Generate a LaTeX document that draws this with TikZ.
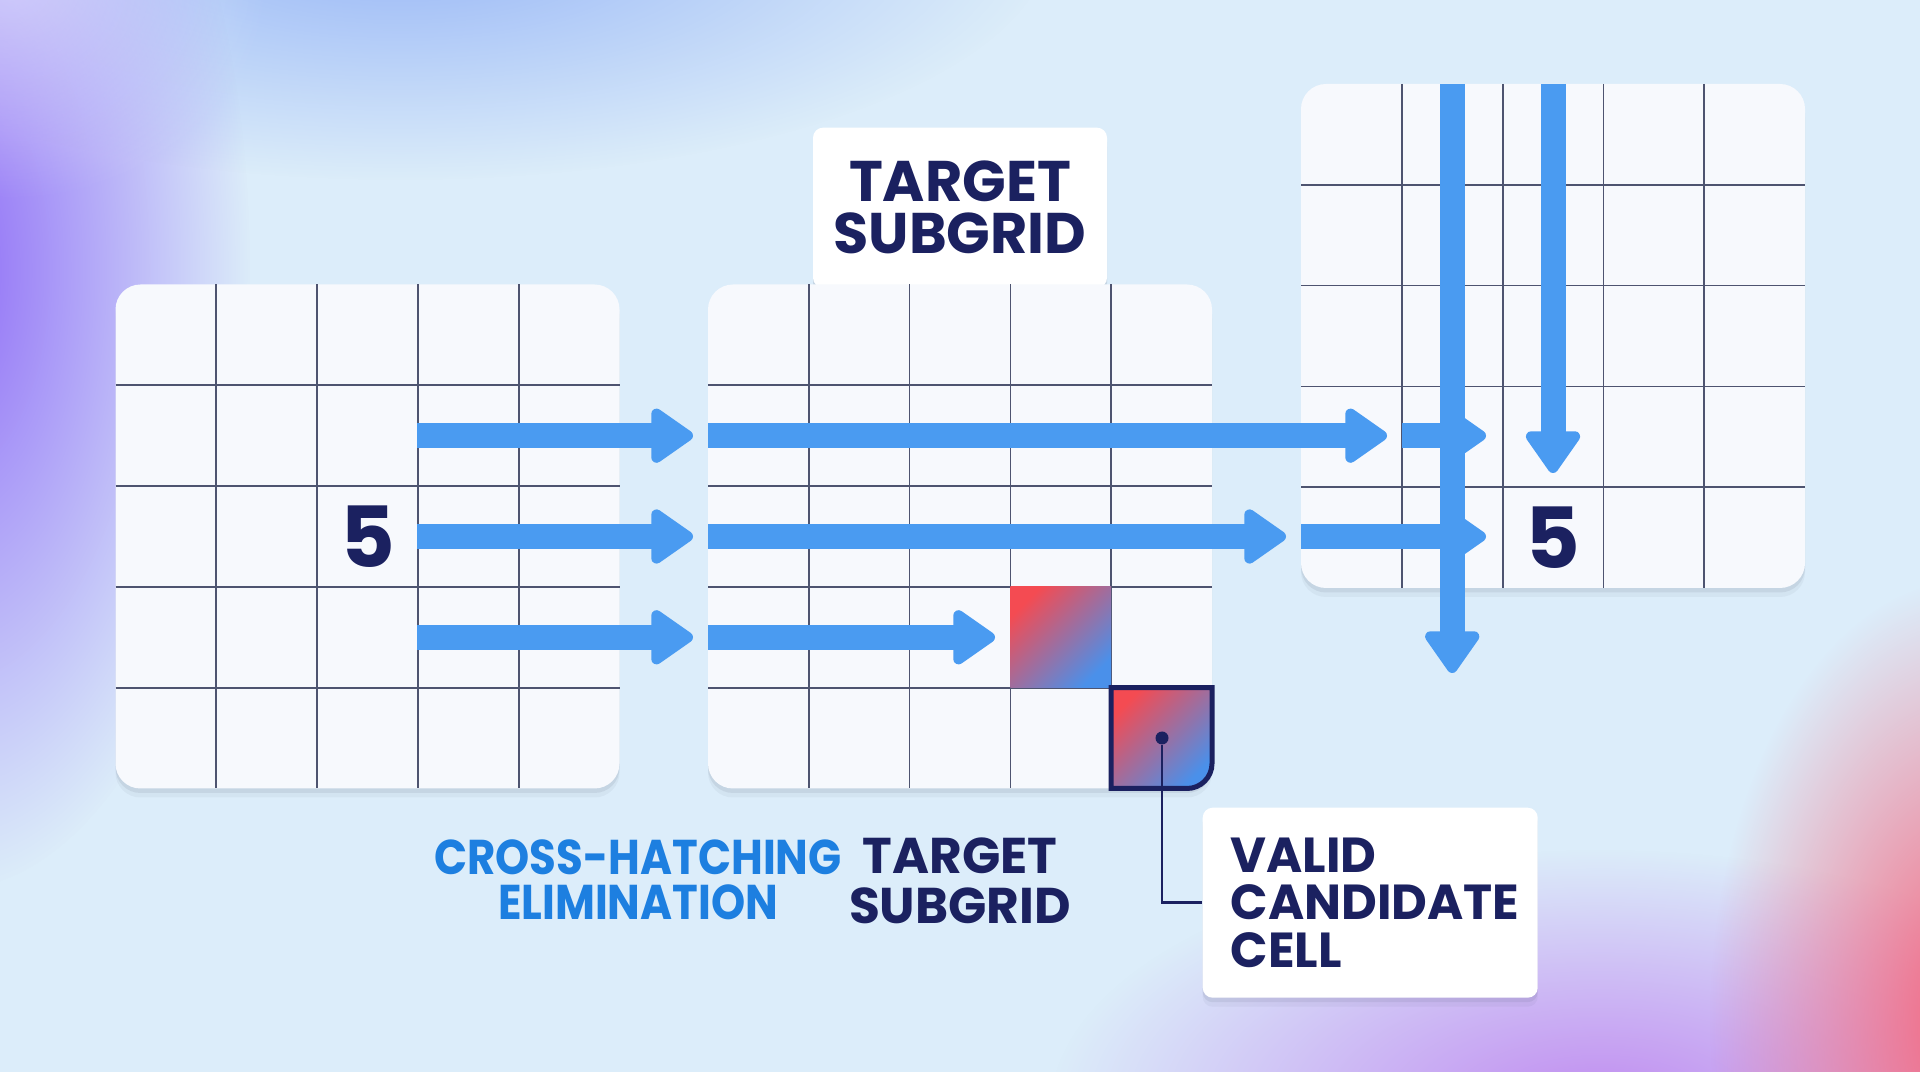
\documentclass[tikz,border=0pt]{standalone}
\usepackage{fontspec}
\setmainfont{Poppins}
\newfontfamily\narrowfont{Poppins}[FakeStretch=0.89]
\usepackage{tikz}
\usetikzlibrary{arrows.meta,positioning,calc,fadings,shadows}
\definecolor{ink}{HTML}{1B2160}
\definecolor{hatchblue}{HTML}{1D7FE0}
\definecolor{raycol}{HTML}{4A9BF1}
\definecolor{gridcol}{HTML}{4E5470}
\definecolor{boardcol}{HTML}{F7F9FD}
\definecolor{skycol}{HTML}{DCEDFA}
\definecolor{hotcol}{HTML}{F44B52}
\definecolor{coolcol}{HTML}{4A90EA}
\definecolor{glowv}{HTML}{8F6CF7}
\definecolor{glowb}{HTML}{86A8F6}
\definecolor{glowp}{HTML}{C08AF0}
\definecolor{glowr}{HTML}{F5647C}
\tikzfading[name=glow,inner color=transparent!0,outer color=transparent!100]

\begin{document}
\begin{tikzpicture}[x=1cm,y=-1cm,
  softshadow/.style={drop shadow={shadow xshift=0pt,shadow yshift=-0.09cm,opacity=0.06,fill=gridcol},
    drop shadow={shadow xshift=0pt,shadow yshift=-0.045cm,opacity=0.10,fill=gridcol}},
  board/.style={fill=boardcol,rounded corners=0.25cm,minimum size=5.04cm,inner sep=0pt,outer sep=0pt,anchor=north west,softshadow},
  gridline/.style={gridcol,line width=0.5pt},
  sweep/.style={raycol,line width=0.25cm,-{Triangle[length=0.46cm,width=0.61cm,round,line width=3pt]}},
  tag/.style={fill=white,rounded corners=0.1cm,inner sep=0pt,text=ink,softshadow},
  digit/.style={text=ink,font=\fontsize{24}{24}\selectfont\bfseries},
  heat/.style={top color=hotcol,bottom color=coolcol,shading angle=45}]
  \fill[skycol] (0,0) rectangle (19.2,10.72);
  \useasboundingbox (0,0) rectangle (19.2,10.72);
  \begin{scope}
    \clip (0,0) rectangle (19.2,10.72);
    \fill[glowb,opacity=0.8,path fading=glow] (4.0,-0.6) ellipse (6.5 and 2.4);
    \fill[glowv,path fading=glow] (-0.5,2.7) ellipse (3.0 and 6.2);
    \fill[white,opacity=0.45,path fading=glow] (0.1,-0.2) ellipse (2.6 and 2.2);
    \fill[glowp,path fading=glow] (16.0,11.1) ellipse (5.5 and 2.6);
    \fill[glowr,path fading=glow] (19.7,10.2) ellipse (2.6 and 4.4);
  \end{scope}

  \node[tag,minimum width=2.94cm,minimum height=1.6cm,anchor=north,align=center,
    font=\fontsize{16.3}{14.8}\selectfont\bfseries] (tagtop) at (9.60,1.27) {TARGET\\SUBGRID};

  \foreach \n/\gx/\gy in {g1/1.155/2.845,g2/7.08/2.845,g3/13.01/0.84}{
    \node[board] (\n) at (\gx,\gy) {};
    \foreach \i in {1,...,4}{
      \draw[gridline] ($(\n.north west)+(\i*1.008,0)$) -- ($(\n.south west)+(\i*1.008,0)$);
      \draw[gridline] ($(\n.north west)+(0,\i*1.008)$) -- ($(\n.north east)+(0,\i*1.008)$);
    }
  }

  \shade[heat] (10.104,5.869) rectangle (11.112,6.877);

  \foreach \y/\xa/\xb in {4.357/4.17/6.93,5.365/4.17/6.93,6.373/4.17/6.93,
      4.357/7.08/13.87,5.365/7.08/12.86,6.373/7.08/9.95,
      4.357/14.02/14.86,5.365/13.01/14.86}
    \draw[sweep] (\xa,\y) -- (\xb,\y);
  \foreach \x/\yb in {14.522/6.73,15.53/4.73}
    \draw[sweep] (\x,0.84) -- (\x,\yb);

  \node[digit] (fivea) at (3.675,5.365) {5};
  \node[digit] (fiveb) at (15.53,5.376) {5};

  \shadedraw[heat,draw=ink,line width=0.05cm] (11.112,6.877) -- (12.12,6.877) -- (12.12,7.635)
    .. controls (12.12,7.773) and (12.008,7.885) .. (11.87,7.885) -- (11.112,7.885) -- cycle;

  \node[font=\narrowfont\fontsize{13.9}{12.8}\selectfont\bfseries,text=hatchblue,align=center] (xhatch) at (6.38,8.80) {CROSS-HATCHING\\ELIMINATION};
  \node[font=\fontsize{14.3}{14.2}\selectfont\bfseries,text=ink,align=center] (tagbot) at (9.60,8.81) {TARGET\\SUBGRID};

  \node[tag,anchor=north west,minimum width=3.35cm,minimum height=1.9cm,text width=2.79cm,inner xsep=0.28cm,align=left,
    font=\fontsize{14}{13.6}\selectfont\bfseries] (vcc) at (12.02,8.07) {VALID\\CANDIDATE\\CELL};
  \node[circle,fill=ink,inner sep=0pt,minimum size=0.13cm] (pin) at (11.62,7.38) {};
  \draw[ink,line width=0.025cm] (pin) |- (vcc.west);
\end{tikzpicture}
\end{document}
